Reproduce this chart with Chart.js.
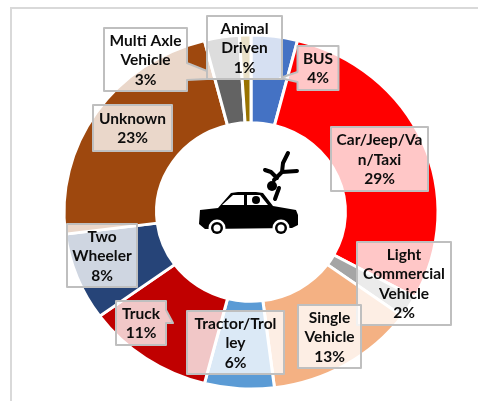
<!DOCTYPE html>
<html>
<head>
<meta charset="utf-8">
<style>
  html, body { margin: 0; padding: 0; background: #fff; }
  canvas { display: block; }
</style>
<script src="https://cdn.jsdelivr.net/npm/chart.js@4"></script>
</head>
<body>
<canvas id="myChart" width="478" height="401"></canvas>
<script>
const categories = ['BUS', 'Car/Jeep/Van/Taxi', 'Light Commercial Vehicle', 'Single Vehicle', 'Tractor/Trolley',
  'Truck', 'Two Wheeler', 'Unknown', 'Multi Axle Vehicle', 'Animal Driven'];
const values = [4, 29, 2, 13, 6, 11, 8, 23, 3, 1];
const colors = ['#4472C4', '#FF0000', '#A5A5A5', '#F4B183', '#5B9BD5', '#C00000', '#264478', '#9E480E', '#636363', '#997300'];

// how each category name wraps inside its label box
const labelLines = [['BUS'], ['Car/Jeep/Va', 'n/Taxi'], ['Light', 'Commercial', 'Vehicle'], ['Single', 'Vehicle'],
  ['Tractor/Trol', 'ley'], ['Truck'], ['Two', 'Wheeler'], ['Unknown'], ['Multi Axle', 'Vehicle'], ['Animal', 'Driven']];

// x, y, w, h of the label boxes, same order as categories
const boxes = [[297.5, 46, 41, 44], [331, 127, 97, 64], [357, 242, 94, 83], [298, 305, 63, 63], [187, 311, 97, 63],
  [116, 301, 50, 44], [67, 224, 70, 63], [93, 105, 79, 46], [104, 28, 83, 63], [207, 16, 75, 63]];

// callout tails on the boxes that have one
const tails = {
  0: [[297.5, 72], [280, 78], [297.5, 82]],
  5: [[166, 310], [173, 323], [166, 323]],
  8: [[187, 63], [207, 71], [207, 79], [187, 80]]
};

const cx = 251, cy = 212, rx = 187, ry = 177;

// excel stretched the doughnut a bit wider than tall
const squash = {
  id: 'squash',
  beforeDatasetsDraw(chart) {
    const c = chart.ctx;
    c.save();
    c.translate(cx, cy);
    c.scale(1, ry / rx);
    c.translate(-cx, -cy);
  },
  afterDatasetsDraw(chart) {
    chart.ctx.restore();
  }
};

const frame = {
  id: 'frame',
  beforeDraw(chart) {
    const c = chart.ctx;
    c.strokeStyle = '#D9D9D9';
    c.lineWidth = 2;
    c.beginPath();
    c.moveTo(11, 401);
    c.lineTo(11, 8);
    c.lineTo(478, 8);
    c.stroke();
  }
};

function drawCar(c) {
  c.fillStyle = '#000';
  c.strokeStyle = '#000';
  c.beginPath();
  c.moveTo(200, 210);
  c.lineTo(218, 208);
  c.lineTo(231, 193);
  c.lineTo(238, 192);
  c.lineTo(256, 192);
  c.lineTo(263, 193);
  c.lineTo(273, 206);
  c.lineTo(296, 210);
  c.lineTo(298, 215);
  c.lineTo(298, 225);
  c.lineTo(292, 228);
  c.lineTo(205, 229);
  c.lineTo(199, 224);
  c.closePath();
  c.fill();
  // windows
  c.fillStyle = '#fff';
  c.beginPath();
  c.moveTo(222, 205);
  c.lineTo(233, 195);
  c.lineTo(244, 195);
  c.lineTo(244, 205);
  c.closePath();
  c.moveTo(247, 195);
  c.lineTo(260, 195);
  c.lineTo(268, 205);
  c.lineTo(247, 205);
  c.closePath();
  c.fill();
  // wheels
  [[217, 228], [281, 228]].forEach(w => {
    c.fillStyle = '#fff';
    c.beginPath();
    c.arc(w[0], w[1], 8.5, 0, Math.PI * 2);
    c.fill();
    c.fillStyle = '#000';
    c.beginPath();
    c.arc(w[0], w[1], 6, 0, Math.PI * 2);
    c.fill();
    c.fillStyle = '#fff';
    c.beginPath();
    c.arc(w[0], w[1], 3.5, 0, Math.PI * 2);
    c.fill();
  });
  // person thrown over the bonnet
  c.lineCap = 'round';
  c.lineJoin = 'round';
  c.lineWidth = 4;
  c.beginPath();
  c.moveTo(288, 153);
  c.lineTo(283, 163);
  c.lineTo(282, 172);
  c.lineTo(297, 171);
  c.moveTo(282, 172);
  c.lineTo(274, 180);
  c.moveTo(277, 178);
  c.lineTo(271, 172);
  c.lineTo(265, 170);
  c.moveTo(279, 188);
  c.lineTo(275, 199);
  c.stroke();
  c.fillStyle = '#000';
  c.beginPath();
  c.arc(272, 186, 5, 0, Math.PI * 2);
  c.fill();
  c.beginPath();
  c.arc(256, 200, 4, 0, Math.PI * 2);
  c.fill();
}

const overlays = {
  id: 'overlays',
  afterDraw(chart) {
    const c = chart.ctx;
    drawCar(c);
    c.textAlign = 'center';
    c.textBaseline = 'middle';
    boxes.forEach((b, i) => {
      const x = b[0], y = b[1], w = b[2], h = b[3];
      const t = tails[i];
      c.fillStyle = 'rgba(255,255,255,0.78)';
      c.beginPath();
      c.moveTo(x, y);
      c.lineTo(x + w, y);
      if (t && t[0][0] === x + w) t.forEach(p => c.lineTo(p[0], p[1]));
      c.lineTo(x + w, y + h);
      c.lineTo(x, y + h);
      if (t && t[0][0] === x) t.slice().reverse().forEach(p => c.lineTo(p[0], p[1]));
      c.closePath();
      c.fill();
      c.strokeStyle = '#BFBFBF';
      c.lineWidth = 2;
      c.stroke();
      const lines = labelLines[i].concat(values[i] + '%');
      const lh = 19.5;
      c.fillStyle = '#0D0D0D';
      c.font = 'bold 15.5px Lato';
      lines.forEach((l, k) => {
        c.fillText(l, x + w / 2, y + h / 2 + 0.5 + (k - (lines.length - 1) / 2) * lh);
      });
    });
  }
};

new Chart(document.getElementById('myChart'), {
  type: 'doughnut',
  data: {
    labels: categories,
    datasets: [{
      data: values,
      backgroundColor: colors,
      borderColor: '#fff',
      borderWidth: 3,
      borderAlign: 'center'
    }]
  },
  options: {
    responsive: false,
    animation: false,
    cutout: '50.5%',
    radius: rx,
    layout: {
      padding: { left: cx - rx, top: cy - rx, right: 478 - cx - rx, bottom: 401 - cy - rx }
    },
    plugins: {
      legend: { display: false },
      tooltip: { enabled: false }
    }
  },
  plugins: [frame, squash, overlays]
});
</script>
</body>
</html>
